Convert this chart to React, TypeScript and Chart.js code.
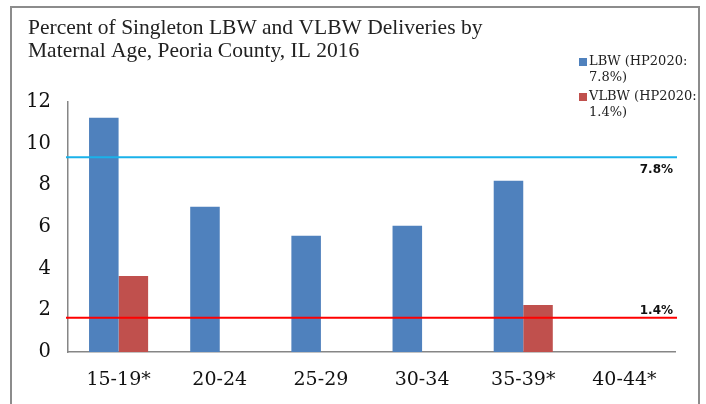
import React, { useEffect, useRef } from "react";
import { Chart, registerables } from "chart.js";
Chart.register(...registerables);

const categories = ["15-19*", "20-24", "25-29", "30-34", "35-39*", "40-44*"];
const lbwValues: (number | null)[] = [11.25, 6.97, 5.58, 6.06, 8.22, null];
const vlbwValues: (number | null)[] = [3.65, null, null, null, 2.26, null];
const yTickMax = 12;
const yTickStep = 2;
const titleLines = ["Percent of Singleton LBW and VLBW Deliveries by", "Maternal Age, Peoria County, IL 2016"];
const lbwLegend = ["LBW (HP2020:", "7.8%)"];
const vlbwLegend = ["VLBW (HP2020:", "1.4%)"];
const lbwTargetLabel = "7.8%";
const vlbwTargetLabel = "1.4%";
const lbwLineLevel = 9.35;
const vlbwLineLevel = 1.65;

const BLUE = "#4F81BD";
const RED = "#C0504D";
const CYAN = "#1AB2EA";
const LINE_RED = "#FF0000";
const AXIS = "#868686";

const overlay = {
  id: "overlay",
  beforeDraw(chart: any) {
    const ctx = chart.ctx;
    ctx.save();
    ctx.fillStyle = "#fff";
    ctx.fillRect(0, 0, chart.width, chart.height);
    ctx.strokeStyle = "#8c8c8c";
    ctx.lineWidth = 2;
    ctx.beginPath();
    ctx.moveTo(11, 410);
    ctx.lineTo(11, 7);
    ctx.lineTo(699, 7);
    ctx.lineTo(699, 410);
    ctx.stroke();
    ctx.restore();
  },
  afterDraw(chart: any) {
    const ctx = chart.ctx;
    const y = chart.scales.y;
    const area = chart.chartArea;
    ctx.save();
    // title
    ctx.fillStyle = "#222";
    ctx.font = "21.5px 'Liberation Serif'";
    ctx.textBaseline = "middle";
    ctx.textAlign = "left";
    titleLines.forEach((t, i) => ctx.fillText(t, 28, 28 + i * 23));
    // legend
    ctx.font = "13px 'DejaVu Serif'";
    const items = [
      { text: lbwLegend, color: BLUE, y: 62 },
      { text: vlbwLegend, color: RED, y: 97 },
    ];
    items.forEach((it) => {
      ctx.fillStyle = it.color;
      ctx.fillRect(579, it.y - 4, 8, 8);
      ctx.fillStyle = "#222";
      it.text.forEach((t, i) => ctx.fillText(t, 589, it.y + i * 16));
    });
    // reference lines
    const lines = [
      { v: lbwLineLevel, color: CYAN, label: lbwTargetLabel, dy: 13 },
      { v: vlbwLineLevel, color: LINE_RED, label: vlbwTargetLabel, dy: -7 },
    ];
    lines.forEach((l) => {
      const py = y.getPixelForValue(l.v);
      ctx.strokeStyle = l.color;
      ctx.lineWidth = 2;
      ctx.beginPath();
      ctx.moveTo(area.left - 2, py);
      ctx.lineTo(area.right + 2, py);
      ctx.stroke();
      ctx.fillStyle = "#111";
      ctx.font = "bold 12px 'DejaVu Sans'";
      ctx.textAlign = "right";
      ctx.fillText(l.label, area.right - 2, py + l.dy);
      ctx.textAlign = "left";
    });
    ctx.restore();
  },
};

export default function App() {
  const ref = useRef<HTMLCanvasElement>(null);
  useEffect(() => {
    if (!ref.current) return;
    const chart = new Chart(ref.current, {
      type: "bar",
      data: {
        labels: categories,
        datasets: [
          { label: lbwLegend.join(" "), data: lbwValues, backgroundColor: BLUE },
          { label: vlbwLegend.join(" "), data: vlbwValues, backgroundColor: RED },
        ],
      },
      options: {
        animation: false,
        responsive: false,
        layout: { padding: { top: 102, right: 31, left: 0, bottom: 0 } },
        plugins: { legend: { display: false }, title: { display: false }, tooltip: { enabled: false } },
        datasets: { bar: { categoryPercentage: 0.584, barPercentage: 1 } },
        scales: {
          x: {
            grid: { display: false, drawTicks: false },
            border: { display: true, color: AXIS, width: 1.5 },
            ticks: { color: "#111", font: { family: "'DejaVu Serif'", size: 19 }, padding: 17, maxRotation: 0 },
            afterFit(s: any) { s.height = 52; },
          },
          y: {
            min: 0,
            max: yTickMax,
            grid: { display: false, drawTicks: false },
            border: { display: true, color: AXIS, width: 1.5 },
            ticks: { stepSize: yTickStep, color: "#111", font: { family: "'DejaVu Serif'", size: 19.5 }, padding: 17 },
            afterFit(s: any) { s.width = 68; },
          },
        },
      },
      plugins: [overlay],
    } as any);
    return () => chart.destroy();
  }, []);
  return (
    <div style={{ position: "fixed", left: 0, top: 0, width: 706, height: 404 }}>
      <canvas ref={ref} width={706} height={404} style={{ display: "block" }} />
    </div>
  );
}
